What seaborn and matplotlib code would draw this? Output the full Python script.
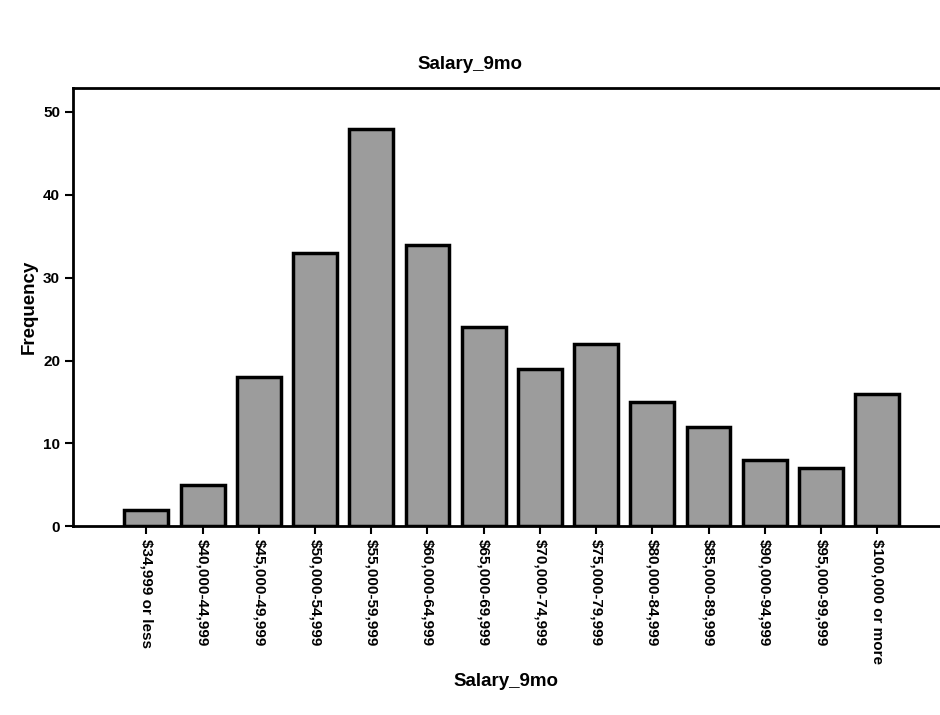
import seaborn as sns
import matplotlib.pyplot as plt
import pandas as pd

# salary bands and their counts
bands = ['$34,999 or less', '$40,000-44,999', '$45,000-49,999', '$50,000-54,999',
         '$55,000-59,999', '$60,000-64,999', '$65,000-69,999', '$70,000-74,999',
         '$75,000-79,999', '$80,000-84,999', '$85,000-89,999', '$90,000-94,999',
         '$95,000-99,999', '$100,000 or more']
counts = [2, 5, 18, 33, 48, 34, 24, 19, 22, 15, 12, 8, 7, 16]

df = pd.DataFrame({'Salary_9mo': bands, 'Frequency': counts})

sns.set_style('white')
plt.rcParams['font.family'] = ['Liberation Sans', 'DejaVu Sans']
plt.rcParams['text.color'] = 'black'
plt.rcParams['axes.labelcolor'] = 'black'
plt.rcParams['xtick.color'] = 'black'
plt.rcParams['ytick.color'] = 'black'

fig = plt.figure(figsize=(9.4, 7.15), dpi=100)
ax = fig.add_axes([0.078, 0.264, 0.921, 0.613])

sns.barplot(data=df, x='Salary_9mo', y='Frequency', color='#9c9c9c', saturation=1,
            width=0.78, edgecolor='black', linewidth=2.5, ax=ax)

ax.set_xlim(-1.3, 14.1)
ax.set_ylim(0, 52.9)
ax.set_yticks([0, 10, 20, 30, 40, 50])
ax.tick_params(axis='both', direction='out', length=6, width=1.5, color='black',
               bottom=True, left=True, labelsize=11)
for lbl in ax.get_xticklabels():
    lbl.set_rotation(270)
    lbl.set_va('top')
    lbl.set_ha('center')
    lbl.set_fontweight('bold')
for lbl in ax.get_yticklabels():
    lbl.set_fontweight('bold')

for side in ['left', 'bottom', 'top']:
    ax.spines[side].set_color('black')
    ax.spines[side].set_linewidth(2)
ax.spines['right'].set_visible(False)

ax.set_xlabel('Salary_9mo', fontsize=13.5, fontweight='bold', labelpad=6)
ax.set_ylabel('Frequency', fontsize=13.5, fontweight='bold', labelpad=4)
fig.suptitle('Salary_9mo', fontsize=13.5, fontweight='bold', x=0.5, y=0.922)

fig.savefig('out.png', dpi=100)
